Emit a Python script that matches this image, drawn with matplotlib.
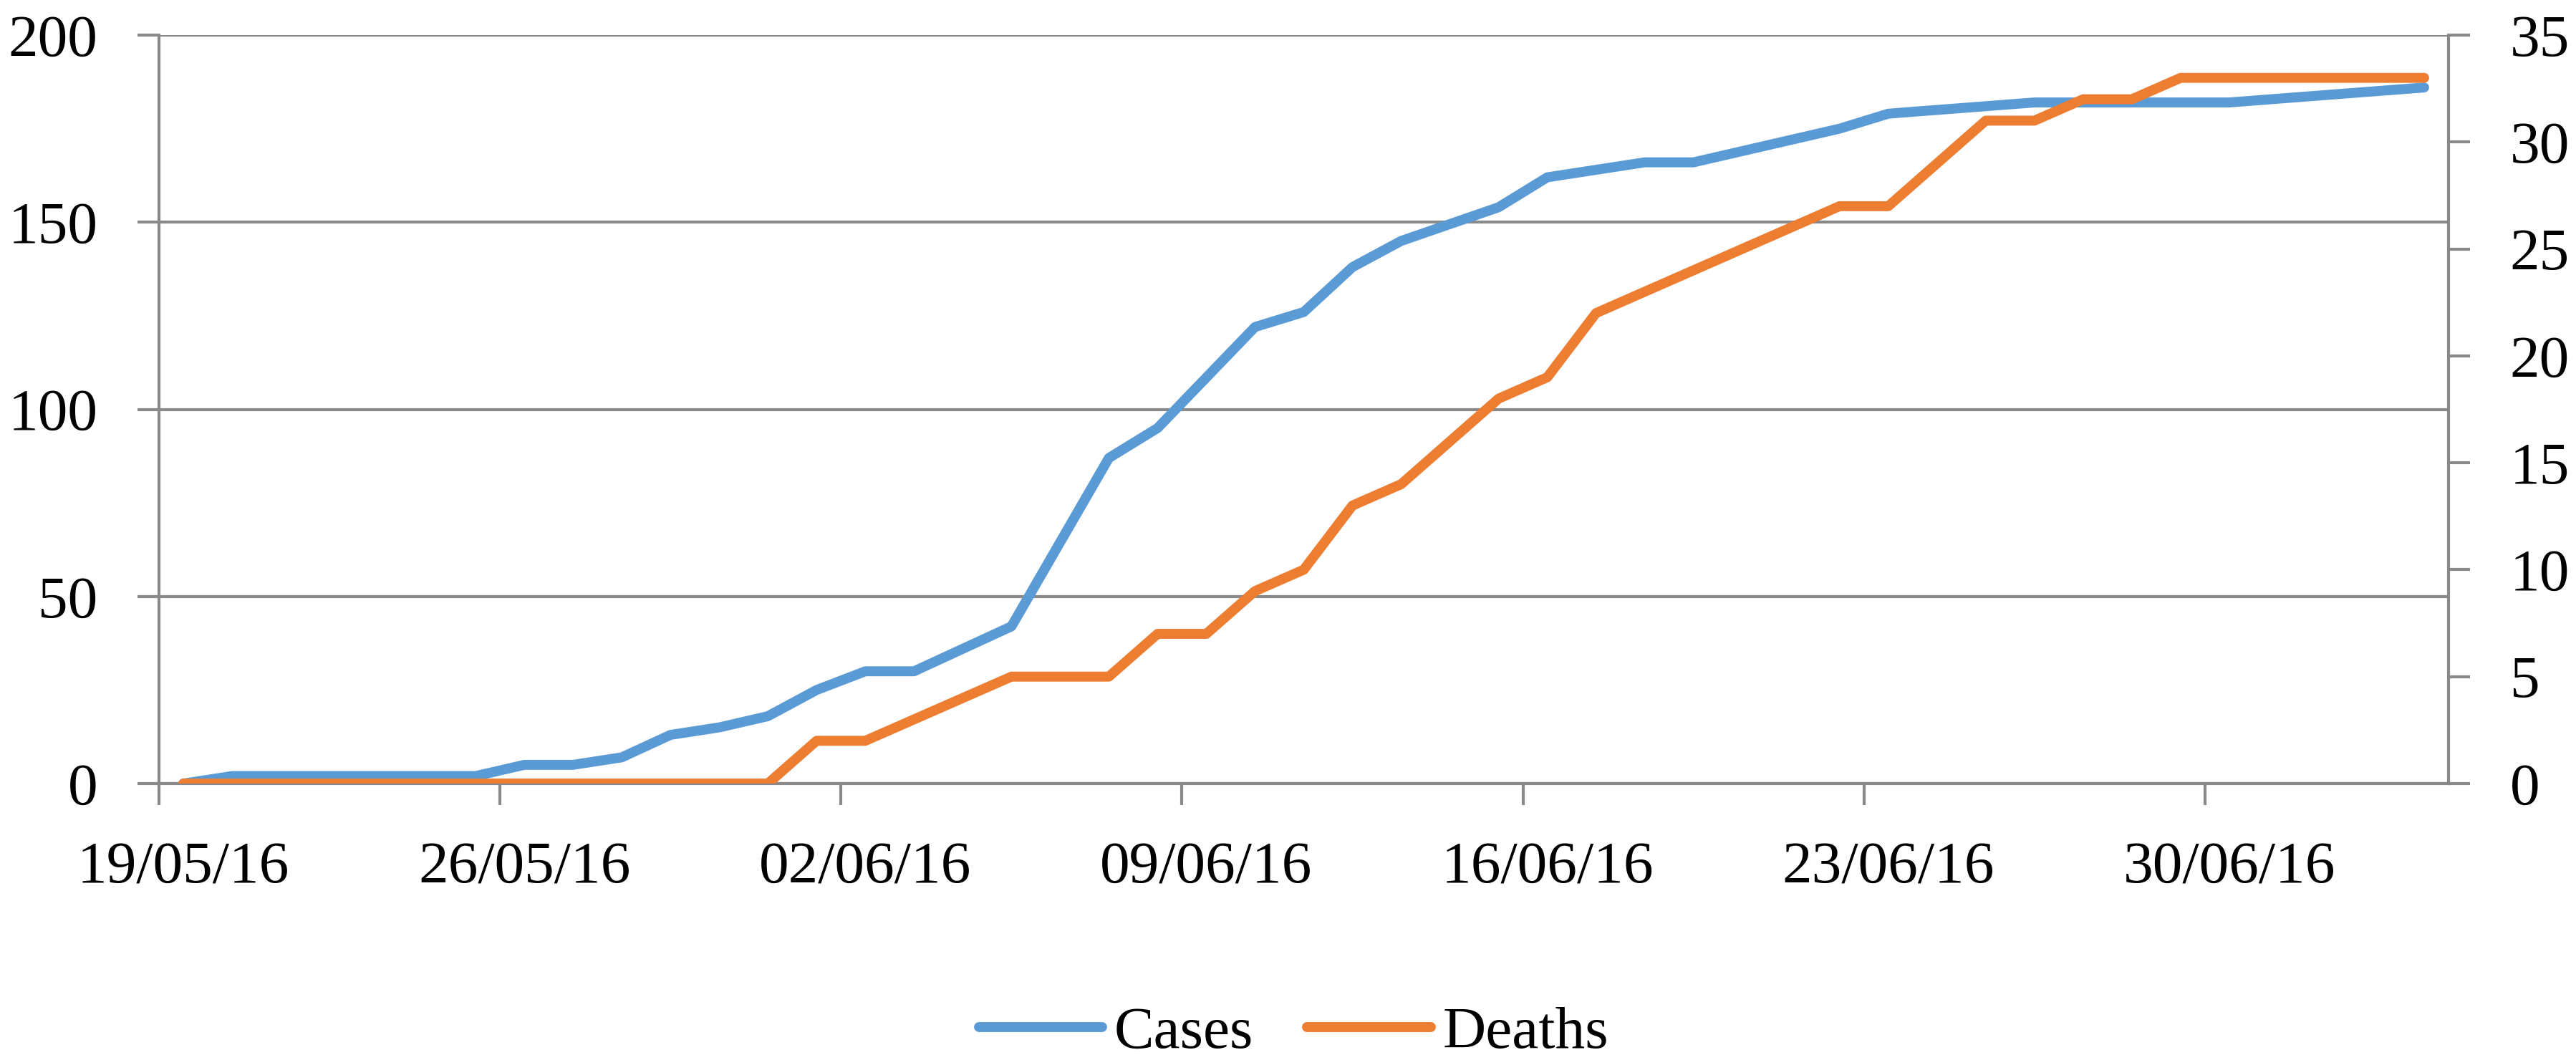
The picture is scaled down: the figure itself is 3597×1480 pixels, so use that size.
import matplotlib
matplotlib.use("Agg")
import matplotlib.pyplot as plt
import matplotlib.dates as mdates
import pandas as pd

# daily counts (only the dates where the line bends)
case_dates = ["2016-05-19", "2016-05-20", "2016-05-25", "2016-05-26", "2016-05-27",
              "2016-05-28", "2016-05-29", "2016-05-30", "2016-05-31", "2016-06-01",
              "2016-06-02", "2016-06-03", "2016-06-05", "2016-06-07", "2016-06-08",
              "2016-06-10", "2016-06-11", "2016-06-12", "2016-06-13", "2016-06-15",
              "2016-06-16", "2016-06-18", "2016-06-19", "2016-06-22", "2016-06-23",
              "2016-06-26", "2016-06-30", "2016-07-04"]
cases = [0, 2, 2, 5, 5, 7, 13, 15, 18, 25, 30, 30, 42, 87, 95,
         122, 126, 138, 145, 154, 162, 166, 166, 175, 179, 182, 182, 186]

death_dates = ["2016-05-19", "2016-05-31", "2016-06-01", "2016-06-02", "2016-06-05",
               "2016-06-07", "2016-06-08", "2016-06-09", "2016-06-10", "2016-06-11",
               "2016-06-12", "2016-06-13", "2016-06-15", "2016-06-16", "2016-06-17",
               "2016-06-22", "2016-06-23", "2016-06-25", "2016-06-26", "2016-06-27",
               "2016-06-28", "2016-06-29", "2016-07-04"]
deaths = [0, 0, 2, 2, 5, 5, 7, 7, 9, 10, 13, 14, 18, 19, 22,
          27, 27, 31, 31, 32, 32, 33, 33]

tick_dates = ["2016-05-19", "2016-05-26", "2016-06-02", "2016-06-09",
              "2016-06-16", "2016-06-23", "2016-06-30"]
left_ticks = [0, 50, 100, 150, 200]
right_ticks = [0, 5, 10, 15, 20, 25, 30, 35]

BLUE = "#5b9bd5"
ORANGE = "#ed7d31"
GRAY = "#898989"
FS = 60
LW = 10

plt.rcParams["font.family"] = ["Liberation Serif", "DejaVu Serif"]

# points sit in the middle of their day, like Excel's date axis
half = pd.Timedelta(hours=12)
xc = pd.to_datetime(case_dates) + half
xd = pd.to_datetime(death_dates) + half
ticks = pd.to_datetime(tick_dates)

fig = plt.figure(figsize=(35.98, 14.8), dpi=100)
ax = fig.add_axes([222 / 3598, 1 - 1094 / 1480, (3419 - 222) / 3598, (1094 - 49) / 1480])
ax2 = ax.twinx()

l1, = ax.plot(xc, cases, color=BLUE, lw=LW, solid_capstyle="round",
              solid_joinstyle="round", label="Cases")
l2, = ax2.plot(xd, deaths, color=ORANGE, lw=LW, solid_capstyle="round",
               solid_joinstyle="round", label="Deaths")

ax.set_xlim(pd.Timestamp("2016-05-19"), pd.Timestamp("2016-07-05"))
ax.set_ylim(0, 200)
ax2.set_ylim(0, 35)
ax.set_yticks(left_ticks)
ax2.set_yticks(right_ticks)

# tick marks on the day boundary, labels centred on the day
ax.xaxis.set_major_locator(plt.FixedLocator(mdates.date2num(ticks)))
ax.xaxis.set_major_formatter(plt.NullFormatter())
ax.xaxis.set_minor_locator(plt.FixedLocator(mdates.date2num(ticks + half)))
ax.xaxis.set_minor_formatter(mdates.DateFormatter("%d/%m/%y"))

ax.grid(axis="y", color=GRAY, lw=3)
ax.set_axisbelow(True)

for a in (ax, ax2):
    for s in a.spines.values():
        s.set_visible(False)
ax.spines["left"].set_visible(True)
ax.spines["bottom"].set_visible(True)
ax2.spines["right"].set_visible(True)
for s in (ax.spines["left"], ax.spines["bottom"], ax2.spines["right"]):
    s.set_color(GRAY)
    s.set_linewidth(3)

ax.tick_params(axis="y", which="major", length=21.6, width=3, color=GRAY,
               labelsize=FS, pad=40)
ax2.tick_params(axis="y", which="major", length=21.6, width=3, color=GRAY,
                labelsize=FS, pad=40)
ax.tick_params(axis="x", which="major", length=21.6, width=3, color=GRAY)
ax.tick_params(axis="x", which="minor", length=0, labelsize=FS, pad=58)

fig.legend(handles=[l1, l2], loc="center", bbox_to_anchor=(0.502, 1 - 1443 / 1480),
           ncol=2, frameon=False, fontsize=FS, handlelength=2.07,
           handletextpad=0.2, columnspacing=0.9)

fig.savefig("out.png", dpi=100)
